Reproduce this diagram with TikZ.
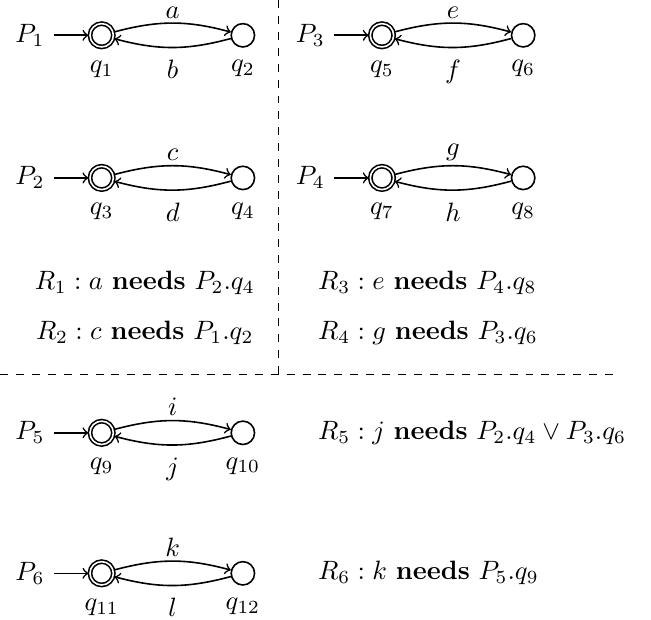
\documentclass[tikz,border=0pt]{standalone}
\usepackage{amsmath}
\usetikzlibrary{automata,positioning}

\begin{document}
\begin{tikzpicture}[x=0.935cm, y=0.935cm, semithick, node distance=1.87cm, on grid,
    every state/.style={minimum size=8.8pt, inner sep=0pt},
    every label/.style={label distance=1pt},
    trans/.style={->, bend left=15},
    elabel/.style={inner sep=1pt},
    rule/.style={anchor=west}]
  \useasboundingbox (0,0) rectangle (9.22,-8.78);
  % P1 and P2
  \node[state, initial, accepting, initial text=$P_1$, label=below:$q_1$] (q1) at (1.44,-0.5) {};
  \node[state, label=below:$q_2$, right=of q1] (q2) {};
  \draw (q1) edge[trans] node[elabel, above=0.6pt] {$a$} (q2)
        (q2) edge[trans] node[elabel, below=3.5pt] {$b$} (q1);
  \node[state, initial, accepting, initial text=$P_2$, label=below:$q_3$] (q3) at (1.44,-2.52) {};
  \node[state, label=below:$q_4$, right=of q3] (q4) {};
  \draw (q3) edge[trans] node[elabel, above=0.6pt] {$c$} (q4)
        (q4) edge[trans] node[elabel, below=3.5pt] {$d$} (q3);
  % P3 and P4
  \node[state, initial, accepting, initial text=$P_3$, label=below:$q_5$] (q5) at (5.41,-0.5) {};
  \node[state, label=below:$q_6$, right=of q5] (q6) {};
  \draw (q5) edge[trans] node[elabel, above=0.6pt] {$e$} (q6)
        (q6) edge[trans] node[elabel, below=3.5pt] {$f$} (q5);
  \node[state, initial, accepting, initial text=$P_4$, label=below:$q_7$] (q7) at (5.41,-2.52) {};
  \node[state, label=below:$q_8$, right=of q7] (q8) {};
  \draw (q7) edge[trans] node[elabel, above=0.6pt] {$g$} (q8)
        (q8) edge[trans] node[elabel, below=3.5pt] {$h$} (q7);
  % rules of the upper half
  \node (r1) at (2.05,-4.01) {$R_1 : a$ \textbf{needs} $P_2.q_4$};
  \node (r2) at (2.05,-4.72) {$R_2 : c$ \textbf{needs} $P_1.q_2$};
  \node[rule] (r3) at (4.37,-4.01) {$R_3 : e$ \textbf{needs} $P_4.q_8$};
  \node[rule] (r4) at (4.37,-4.72) {$R_4 : g$ \textbf{needs} $P_3.q_6$};
  % separators
  \coordinate (vtop) at (3.94,0);
  \coordinate (vbot) at (3.94,-5.31);
  \coordinate (hleft) at (0,-5.31);
  \coordinate (hright) at (8.77,-5.31);
  \draw[thin, dashed] (vtop) -- (vbot);
  \draw[thin, dashed] (hleft) -- (hright);
  % P5 and P6
  \node[state, initial, accepting, initial text=$P_5$, label=below:$q_9$] (q9) at (1.44,-6.13) {};
  \node[state, label=below:$q_{10}$, right=of q9] (q10) {};
  \draw (q9) edge[trans] node[elabel, above=0.6pt] {$i$} (q10)
        (q10) edge[trans] node[elabel, below=3.5pt] {$j$} (q9);
  \node[state, initial, accepting, initial text=$P_6$, label=below:$q_{11}$] (q11) at (1.44,-8.12) {};
  \node[state, label=below:$q_{12}$, right=of q11] (q12) {};
  \draw (q11) edge[trans] node[elabel, above=0.6pt] {$k$} (q12)
        (q12) edge[trans] node[elabel, below=3.5pt] {$l$} (q11);
  % rules of the lower half
  \node[rule] (r5) at (4.37,-6.13) {$R_5 : j$ \textbf{needs} $P_2.q_4 \vee P_3.q_6$};
  \node[rule] (r6) at (4.37,-8.12) {$R_6 : k$ \textbf{needs} $P_5.q_9$};
\end{tikzpicture}
\end{document}
